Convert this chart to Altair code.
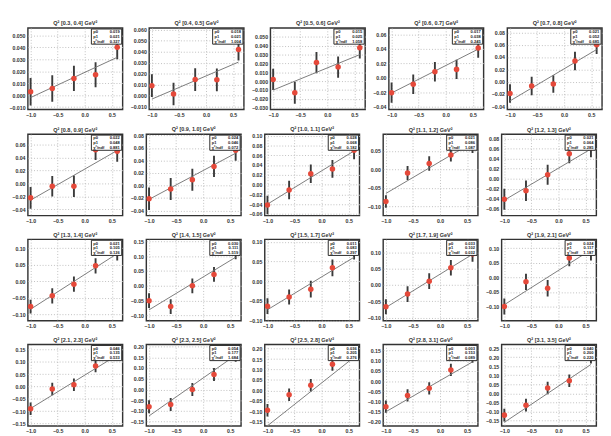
import altair as alt
import pandas as pd

titles = ["Q² [0.3, 0.4] GeV²", "Q² [0.4, 0.5] GeV²", "Q² [0.5, 0.6] GeV²", "Q² [0.6, 0.7] GeV²", "Q² [0.7, 0.8] GeV²",
          "Q² [0.8, 0.9] GeV²", "Q² [0.9, 1.0] GeV²", "Q² [1.0, 1.1] GeV²", "Q² [1.1, 1.2] GeV²", "Q² [1.2, 1.3] GeV²",
          "Q² [1.3, 1.4] GeV²", "Q² [1.4, 1.5] GeV²", "Q² [1.5, 1.7] GeV²", "Q² [1.7, 1.9] GeV²", "Q² [1.9, 2.1] GeV²",
          "Q² [2.1, 2.3] GeV²", "Q² [2.3, 2.5] GeV²", "Q² [2.5, 2.8] GeV²", "Q² [2.8, 3.1] GeV²", "Q² [3.1, 3.5] GeV²"]

x_vals = [-1.0, -0.6, -0.2, 0.2, 0.6]

y_vals = [
    [0.0028, 0.0056, 0.014, 0.017, 0.040],
    [0.0092, 0.0016, 0.0147, 0.0145, 0.042],
    [0.002, -0.013, 0.021, 0.016, 0.0377],
    [-0.0206, -0.009, 0.0085, 0.0117, 0.0415],
    [-0.019, -0.007, -0.0036, 0.0336, 0.060],
    [-0.0225, -0.0045, -0.0045, 0.052, 0.0495],
    [-0.021, -0.0056, 0.0094, 0.0306, 0.0565],
    [-0.0416, -0.011, 0.022, 0.032, 0.070],
    [-0.0866, -0.010, 0.0157, 0.039, 0.062],
    [-0.041, -0.024, 0.008, 0.050, 0.062],
    [-0.076, -0.0436, -0.0085, 0.047, 0.085],
    [-0.050, -0.070, 0.000, 0.0386, 0.115],
    [-0.063, -0.040, -0.020, 0.034, 0.075],
    [-0.0667, -0.028, 0.0117, 0.053, 0.0955],
    [-0.099, -0.015, -0.037, 0.066, 0.086],
    [-0.090, -0.010, 0.007, 0.083, 0.140],
    [-0.080, -0.070, 0.000, 0.070, 0.160],
    [-0.095, -0.020, 0.025, 0.125, 0.190],
    [-0.125, -0.070, -0.035, 0.055, 0.120],
    [-0.120, -0.065, 0.030, 0.070, 0.200],
]

y_errs = [
    [0.0115, 0.011, 0.0105, 0.0105, 0.010],
    [0.0103, 0.0103, 0.0103, 0.0103, 0.010],
    [0.012, 0.0125, 0.012, 0.012, 0.012],
    [0.014, 0.0135, 0.0135, 0.0135, 0.0135],
    [0.015, 0.015, 0.014, 0.015, 0.015],
    [0.017, 0.016, 0.0165, 0.016, 0.016],
    [0.018, 0.0175, 0.0175, 0.017, 0.017],
    [0.019, 0.019, 0.019, 0.018, 0.018],
    [0.017, 0.019, 0.0195, 0.018, 0.018],
    [0.021, 0.0205, 0.020, 0.019, 0.019],
    [0.021, 0.023, 0.023, 0.023, 0.022],
    [0.025, 0.025, 0.025, 0.025, 0.025],
    [0.020, 0.019, 0.021, 0.021, 0.020],
    [0.023, 0.024, 0.024, 0.024, 0.024],
    [0.027, 0.028, 0.028, 0.028, 0.028],
    [0.025, 0.025, 0.025, 0.025, 0.025],
    [0.030, 0.030, 0.030, 0.030, 0.030],
    [0.030, 0.030, 0.030, 0.030, 0.030],
    [0.030, 0.030, 0.030, 0.030, 0.030],
    [0.035, 0.035, 0.035, 0.035, 0.035],
]

p0_vals = ["0.019", "0.018", "0.015", "0.017", "0.021", "0.022", "0.024", "0.028", "0.021", "0.021",
           "0.021", "0.030", "0.011", "0.033", "0.024", "0.046", "0.054", "0.036", "0.003", "0.040"]
p1_vals = ["0.021", "0.021", "0.025", "0.038", "0.052", "0.048", "0.046", "0.068", "0.086", "0.064",
           "0.105", "0.111", "0.083", "0.102", "0.117", "0.135", "0.177", "0.205", "0.153", "0.200"]
chi2_vals = ["0.327", "1.004", "1.058", "0.245", "0.685", "0.881", "0.072", "0.182", "1.087", "0.285",
             "0.126", "1.519", "0.297", "0.032", "1.187", "0.533", "1.684", "0.276", "0.089", "0.220"]

y_domains = [
    [-0.012, 0.056], [-0.0125, 0.0615], [-0.032, 0.060], [-0.044, 0.069], [-0.045, 0.087],
    [-0.050, 0.076], [-0.048, 0.082], [-0.0635, 0.103], [-0.125, 0.095], [-0.074, 0.089],
    [-0.119, 0.127], [-0.118, 0.157], [-0.100, 0.106], [-0.110, 0.140], [-0.148, 0.130],
    [-0.160, 0.170], [-0.170, 0.210], [-0.170, 0.220], [-0.220, 0.180], [-0.180, 0.270],
]

y_ticks = [
    [-0.01, 0.0, 0.01, 0.02, 0.03, 0.04, 0.05],
    [-0.01, 0.0, 0.01, 0.02, 0.03, 0.04, 0.05, 0.06],
    [-0.03, -0.02, -0.01, 0.0, 0.01, 0.02, 0.03, 0.04, 0.05],
    [-0.04, -0.02, 0.0, 0.02, 0.04, 0.06],
    [-0.04, -0.02, 0.0, 0.02, 0.04, 0.06, 0.08],
    [-0.04, -0.02, 0.0, 0.02, 0.04, 0.06],
    [-0.04, -0.02, 0.0, 0.02, 0.04, 0.06, 0.08],
    [-0.06, -0.04, -0.02, 0.0, 0.02, 0.04, 0.06, 0.08, 0.10],
    [-0.10, -0.05, 0.0, 0.05],
    [-0.06, -0.04, -0.02, 0.0, 0.02, 0.04, 0.06, 0.08],
    [-0.10, -0.05, 0.0, 0.05, 0.10],
    [-0.10, -0.05, 0.0, 0.05, 0.10, 0.15],
    [-0.10, -0.05, 0.0, 0.05, 0.10],
    [-0.10, -0.05, 0.0, 0.05, 0.10],
    [-0.10, -0.05, 0.0, 0.05, 0.10],
    [-0.15, -0.10, -0.05, 0.0, 0.05, 0.10, 0.15],
    [-0.15, -0.10, -0.05, 0.0, 0.05, 0.10, 0.15, 0.20],
    [-0.15, -0.10, -0.05, 0.0, 0.05, 0.10, 0.15, 0.20],
    [-0.20, -0.15, -0.10, -0.05, 0.0, 0.05, 0.10, 0.15],
    [-0.15, -0.10, -0.05, 0.0, 0.05, 0.10, 0.15, 0.20, 0.25],
]
y_formats = [".3f", ".3f", ".3f"] + [".2f"] * 17

x_ticks = [-1.0, -0.5, 0.0, 0.5]
fit_range = [-1.0, 0.6]

W, H = 100, 86
FONT = "Liberation Sans"
RED = "#e5493a"
DARK = "#333333"


def panel(i):
    df = pd.DataFrame({"x": x_vals, "y": y_vals[i], "e": y_errs[i]})
    df["lo"] = df["y"] - df["e"]
    df["hi"] = df["y"] + df["e"]
    p0 = float(p0_vals[i])
    p1 = float(p1_vals[i])
    fit = pd.DataFrame({"x": fit_range, "y": [p0 + p1 * v for v in fit_range]})

    xs = alt.Scale(domain=[-1.05, 0.7], nice=False, zero=False)
    ys = alt.Scale(domain=y_domains[i], nice=False, zero=False)
    xax = alt.Axis(values=x_ticks, format=".1f", title=None, grid=True, ticks=False, domain=False,
                   labelFontSize=5.5, labelFont=FONT, labelFontWeight="bold", labelColor=DARK,
                   gridDash=[1, 2], gridColor="#bbbbbb", labelPadding=3, labelFlush=False)
    yax = alt.Axis(values=y_ticks[i], format=y_formats[i], title=None, grid=True, ticks=False, domain=False,
                   labelFontSize=5.5, labelFont=FONT, labelFontWeight="bold", labelColor=DARK,
                   gridDash=[1, 2], gridColor="#bbbbbb", labelPadding=3, minExtent=16, maxExtent=16,
                   labelFlush=False)

    X = alt.X("x:Q", scale=xs, axis=xax)
    bars = alt.Chart(df).mark_rule(color="#3a3a3a", strokeWidth=2, clip=True).encode(
        x=X, y=alt.Y("lo:Q", scale=ys, axis=yax), y2="hi:Q")
    pts = alt.Chart(df).mark_circle(color=RED, opacity=1, size=34, clip=True).encode(
        x=X, y=alt.Y("y:Q", scale=ys, axis=yax))
    line = alt.Chart(fit).mark_line(color="#777777", strokeWidth=1, clip=True).encode(
        x=X, y=alt.Y("y:Q", scale=ys, axis=yax))

    stats = pd.DataFrame({"lab": ["p0", "p1", "χ²/ndf"], "val": [p0_vals[i], p1_vals[i], chi2_vals[i]]})
    box = alt.Chart(stats.head(1)).mark_rect(fill="white", stroke="#222222", strokeWidth=1).encode(
        x=alt.value(W - 33), x2=alt.value(W - 1), y=alt.value(1), y2=alt.value(17))
    layers = [bars, line, pts, box]
    for k in range(3):
        row = stats.iloc[[k]]
        layers.append(alt.Chart(row).mark_text(align="left", baseline="middle", fontSize=4.3, font=FONT,
                                               fontWeight="bold", color="#222222").encode(
            x=alt.value(W - 31), y=alt.value(4.5 + 5 * k), text="lab:N"))
        layers.append(alt.Chart(row).mark_text(align="right", baseline="middle", fontSize=4.3, font=FONT,
                                               fontWeight="bold", color="#222222").encode(
            x=alt.value(W - 3), y=alt.value(4.5 + 5 * k), text="val:N"))

    return alt.layer(*layers).properties(
        width=W, height=H,
        title=alt.TitleParams(titles[i], fontSize=5.8, font=FONT, fontWeight="bold", color=DARK,
                              offset=2, anchor="middle"))


rows = []
for r in range(4):
    rows.append(alt.hconcat(*[panel(r * 5 + c) for c in range(5)], spacing=6))

chart = alt.vconcat(*rows, spacing=6).configure_view(stroke="#333333", strokeWidth=1.5).properties(
    padding={"left": 0, "top": 0, "right": 0, "bottom": 0}, background="white")

chart.save("out.html", embed_options={"renderer": "svg", "actions": False})
